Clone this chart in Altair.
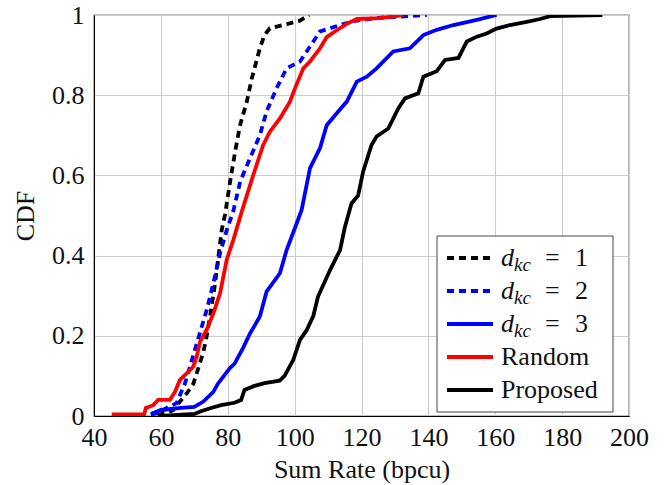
import altair as alt
import pandas as pd

# ---- data (Sum Rate in bpcu, CDF) ----
x_d1 = [59, 62, 63.7, 65.7, 67.7, 69.7, 70.7, 72.7, 73.5, 74.7, 76.2, 77.2, 78.2, 79.2, 80.7, 82.2, 83.7, 85.7, 87.2, 89.6, 91, 92.6, 97.6, 101.6, 104.3]
y_d1 = [0.003, 0.008, 0.015, 0.036, 0.056, 0.08, 0.106, 0.16, 0.19, 0.248, 0.33, 0.397, 0.464, 0.503, 0.584, 0.659, 0.726, 0.784, 0.842, 0.917, 0.95, 0.967, 0.977, 0.986, 1.0]

x_d2 = [57, 60, 61.7, 64.7, 65.7, 67.2, 68.7, 70.7, 73.7, 75.7, 77.7, 79.7, 81.7, 83.7, 86.6, 89.6, 91.6, 94.6, 97.6, 101.6, 103.6, 105.6, 107.6, 113.6, 117.6, 125, 132, 139.5]
y_d2 = [0.003, 0.01, 0.02, 0.032, 0.052, 0.081, 0.123, 0.18, 0.264, 0.331, 0.406, 0.464, 0.512, 0.584, 0.642, 0.7, 0.759, 0.817, 0.867, 0.884, 0.909, 0.934, 0.959, 0.975, 0.985, 0.993, 0.996, 1.0]

x_d3 = [57, 60, 66, 70, 72.7, 75.7, 77, 80.7, 82, 84.6, 86.6, 89.6, 91.6, 95.6, 97.6, 100.6, 102.1, 104.6, 107.6, 109.6, 112.6, 115.6, 118.6, 121.6, 124.5, 129.5, 134.5, 138.5, 142.5, 147.5, 154.5, 160.4]
y_d3 = [0.005, 0.015, 0.02, 0.023, 0.036, 0.06, 0.08, 0.12, 0.13, 0.17, 0.205, 0.248, 0.31, 0.356, 0.414, 0.48, 0.514, 0.618, 0.668, 0.725, 0.755, 0.784, 0.834, 0.846, 0.867, 0.909, 0.917, 0.95, 0.963, 0.975, 0.988, 1.0]

x_rand = [45.3, 55, 55.5, 57.7, 59.2, 62.7, 64.2, 65.7, 67.7, 69.7, 70.7, 71.7, 73.7, 75.7, 77.7, 79.7, 81.7, 84.2, 87.6, 90.6, 92.6, 95.6, 98.6, 100.1, 102.6, 104.6, 107.6, 109.6, 112.6, 115.6, 118.6, 125.5, 132.5]
y_rand = [0.004, 0.004, 0.02, 0.027, 0.04, 0.04, 0.06, 0.09, 0.106, 0.123, 0.148, 0.185, 0.215, 0.256, 0.306, 0.39, 0.44, 0.51, 0.6, 0.676, 0.709, 0.742, 0.784, 0.817, 0.867, 0.884, 0.917, 0.945, 0.962, 0.978, 0.99, 0.992, 1.0]

x_prop = [60, 70, 72, 75, 78, 82, 84, 85, 88, 91, 95.5, 97, 99.6, 101.6, 103.6, 105.6, 107, 110.6, 113.6, 115, 116, 117, 119, 120.5, 123, 124.5, 128, 131, 133, 137, 138.5, 142.5, 145, 149, 151.5, 154.5, 157.4, 160.4, 164.4, 169.4, 173.4, 176.4, 192]
y_prop = [0.0, 0.005, 0.012, 0.02, 0.027, 0.033, 0.04, 0.065, 0.075, 0.082, 0.088, 0.1, 0.14, 0.19, 0.214, 0.25, 0.298, 0.364, 0.414, 0.47, 0.5, 0.53, 0.55, 0.61, 0.676, 0.697, 0.717, 0.767, 0.792, 0.805, 0.846, 0.86, 0.888, 0.893, 0.934, 0.946, 0.954, 0.966, 0.975, 0.983, 0.99, 0.997, 1.0]

x_ticks = [40, 60, 80, 100, 120, 140, 160, 180, 200]
y_ticks = [0, 0.2, 0.4, 0.6, 0.8, 1]

series = [
    ("d1", x_d1, y_d1),
    ("d2", x_d2, y_d2),
    ("d3", x_d3, y_d3),
    ("Random", x_rand, y_rand),
    ("Proposed", x_prop, y_prop),
]

# ---- styles ----
FONT = "Liberation Serif"
FS = 26
W, H = 535, 401
styles = {
    "d1": dict(color="#000000", strokeDash=[7, 5]),
    "d2": dict(color="#0000ff", strokeDash=[7, 5]),
    "d3": dict(color="#0000ff"),
    "Random": dict(color="#ff0000"),
    "Proposed": dict(color="#000000"),
}
LW = 3.8

xscale = alt.Scale(domain=[40, 200], nice=False, zero=False)
yscale = alt.Scale(domain=[0, 1], nice=False, zero=False)

xaxis = alt.Axis(values=x_ticks, labelExpr="'' + datum.value", title="Sum Rate (bpcu)", grid=True,
                 gridColor="#cccccc", gridWidth=1.1, ticks=False, labelFlush=False,
                 labelOverlap=False, labelFont=FONT, labelFontSize=FS, labelColor="#111",
                 labelPadding=8, titleFont=FONT, titleFontSize=FS, titleFontWeight="normal",
                 titleColor="#111", titleX=W / 2, titleY=61, titleBaseline="alphabetic",
                 domainColor="#000", domainWidth=1)
yaxis = alt.Axis(values=y_ticks, labelExpr="'' + datum.value", title="CDF", grid=True,
                 gridColor="#cccccc", gridWidth=1.1, ticks=False, labelFlush=False,
                 labelOverlap=False, labelFont=FONT, labelFontSize=FS, labelColor="#111",
                 labelPadding=10, titleFont=FONT, titleFontSize=FS, titleFontWeight="normal",
                 titleColor="#111", titleAngle=270, titleAlign="center", titleBaseline="middle",
                 titleX=-69, titleY=H / 2, domainColor="#000", domainWidth=1)

layers = []
for name, xs, ys in series:
    df = pd.DataFrame({"x": xs, "y": ys, "i": list(range(len(xs)))})
    layers.append(
        alt.Chart(df).mark_line(strokeWidth=LW, clip=True, strokeCap="butt",
                                strokeJoin="miter", **styles[name]).encode(
            x=alt.X("x:Q", scale=xscale, axis=xaxis),
            y=alt.Y("y:Q", scale=yscale, axis=yaxis),
            order=alt.Order("i:Q"),
        )
    )

# ---- legend (drawn manually to reproduce the math labels) ----
one = pd.DataFrame({"a": [0]})
LX0, LX1, LY0, LY1 = 343, 519, 221, 397
layers.append(alt.Chart(one).mark_rect(fill="white", stroke="#444", strokeWidth=1).encode(
    x=alt.value(LX0), x2=alt.value(LX1), y=alt.value(LY0), y2=alt.value(LY1)))

row_y = [243, 276, 309, 342, 375]
labels = ["1", "2", "3", "Random", "Proposed"]
for (name, _, _), ry, lab in zip(series, row_y, labels):
    st = styles[name]
    layers.append(alt.Chart(one).mark_rule(strokeWidth=LW, strokeCap="butt", **st).encode(
        x=alt.value(353), x2=alt.value(399), y=alt.value(ry)))
    if name.startswith("d"):
        layers.append(alt.Chart(one).mark_text(text="d", font=FONT, fontSize=FS, fontStyle="italic",
                                               align="left", baseline="alphabetic", color="#111").encode(
            x=alt.value(407), y=alt.value(ry + 8)))
        layers.append(alt.Chart(one).mark_text(text="kc", font=FONT, fontSize=19, fontStyle="italic",
                                               align="left", baseline="alphabetic", color="#111").encode(
            x=alt.value(420), y=alt.value(ry + 13)))
        layers.append(alt.Chart(one).mark_text(text="=", font=FONT, fontSize=FS,
                                               align="left", baseline="alphabetic", color="#111").encode(
            x=alt.value(451), y=alt.value(ry + 8)))
        layers.append(alt.Chart(one).mark_text(text=lab, font=FONT, fontSize=FS,
                                               align="left", baseline="alphabetic", color="#111").encode(
            x=alt.value(481), y=alt.value(ry + 8)))
    else:
        layers.append(alt.Chart(one).mark_text(text=lab, font=FONT, fontSize=FS,
                                               align="left", baseline="alphabetic", color="#111").encode(
            x=alt.value(407), y=alt.value(ry + 8)))

chart = alt.layer(*layers).properties(
    width=W, height=H,
    autosize=alt.AutoSizeParams(type="none"),
    padding={"left": 94, "top": 15, "right": 38, "bottom": 69},
    background="white",
).configure_view(stroke="#000", strokeWidth=1.2)

chart.save("out.html", embed_options={"renderer": "svg", "actions": False})
